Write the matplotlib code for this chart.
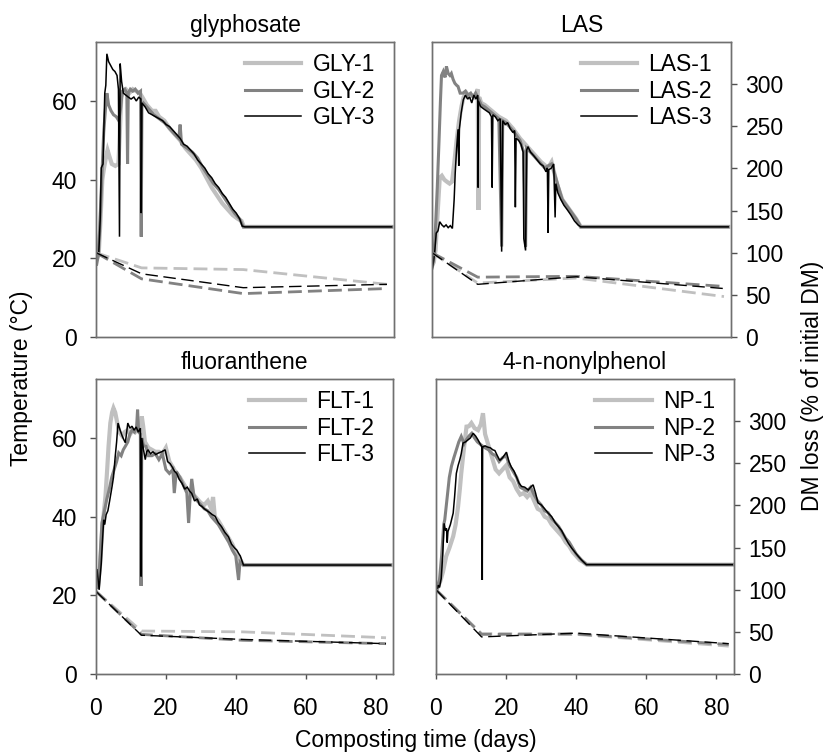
import matplotlib
matplotlib.use("Agg")
import matplotlib.pyplot as plt

plt.rcParams['font.family'] = ['Liberation Sans', 'DejaVu Sans']
plt.rcParams['font.size'] = 16.5

# temperature curves (day, °C)
gly1_d = [0.3, 0.8, 1.3, 1.8, 2.3, 2.8, 3.3, 3.8, 4.5, 5.5, 6.4, 6.8, 7.2, 7.8, 8.5, 9.5, 10.5, 11.5, 12.5, 13.2,
          14.5, 16, 17, 18, 19.5, 21, 22.5, 24, 25.5, 27, 28.5, 30, 31.5, 33, 34.5, 36, 37.5, 39, 40.5, 41.5, 42.2, 84.3]
gly1_t = [20, 21.5, 30, 40, 43, 45.5, 47.5, 46, 44, 43.5, 44, 52, 61, 62.5, 63, 62, 63, 62.5, 62, 61,
          59, 57.5, 57.5, 56, 55, 53, 51.5, 50, 48, 46.5, 45, 43, 40.5, 38, 36, 34, 32.5, 31, 30, 29.5, 28, 28]
gly2_d = [0.2, 0.7, 1.2, 1.7, 2.2, 2.7, 3.1, 3.6, 4.3, 5.0, 5.8, 6.5, 7.0, 7.5, 8.2, 8.8, 9.0, 9.2, 9.8, 10.5, 11.2,
          12.0, 12.7, 12.9, 13.1, 13.5, 15, 16.5, 18, 19.5, 21, 22.5, 23.6, 24.0, 24.4, 26, 27.5, 29, 30.5, 32, 33.5,
          35, 36.5, 38, 39.5, 41, 42, 84.3]
gly2_t = [18.5, 21, 30, 41.5, 52, 58, 62, 59, 57.5, 56.5, 56, 55, 58, 62.5, 63, 62, 44, 62, 63, 62.5, 63,
          62, 62.5, 25.5, 59, 59.5, 58, 56.5, 55.5, 54.5, 53, 51.5, 50.5, 54, 49, 48, 47, 45.5, 43, 41, 39,
          37.5, 35.5, 33.5, 31.5, 30, 28, 28]
gly3_d = [0.8, 1.2, 1.5, 2.0, 2.5, 2.8, 3.1, 3.6, 4.2, 4.8, 5.4, 6.0, 6.4, 6.7, 6.9, 7.3, 7.8, 8.5, 9.2, 10, 10.8,
          11.5, 12.2, 12.8, 12.9, 13.1, 14, 15, 16, 17, 18, 19, 20, 21, 22, 23, 24, 25, 26, 27, 28, 29, 30, 31,
          32, 33, 34, 35, 36, 37, 38, 39, 40, 41, 41.7, 42.5, 84.3]
gly3_t = [21.5, 30, 43, 44, 62, 64, 72, 70, 69, 68, 67.5, 66.5, 63, 25.5, 69.5, 65, 62, 61.5, 61, 60.5, 61,
          60, 61, 60.5, 31.5, 59.5, 58.5, 57, 56.5, 56, 55.5, 55, 54, 53.5, 52.5, 51.5, 50.5, 49, 48.5, 47.5,
          46.5, 45, 44, 43, 41.5, 40.5, 39, 38, 36.5, 35.5, 34, 32.5, 31.5, 30, 28.2, 28, 28]

las1_d = [0, 0.5, 1.0, 1.5, 2.2, 2.8, 3.5, 4.2, 5, 5.7, 6.3, 7, 7.7, 8.4, 9, 9.8, 10.5, 11.2, 12, 12.6, 13.0,
          13.2, 13.4, 14, 15, 17, 19, 21, 23, 25, 27, 29, 31, 33, 34, 35.5, 37, 39, 41, 42.3, 84.2]
las1_t = [18, 19, 22, 30, 40.5, 41, 40, 39.5, 39, 39.5, 44, 50, 55, 58.7, 61, 62, 61, 61.5, 61, 62, 63,
          32.3, 61, 59.5, 59, 57.5, 56, 55, 53, 50.5, 48.5, 46.5, 44.5, 43, 44.5, 39, 35, 32.5, 30, 28, 28]
las2_d = [0, 0.5, 1, 1.5, 2.0, 2.4, 2.7, 3.2, 3.7, 4.1, 4.6, 5.1, 5.5, 6, 6.5, 7, 7.4, 8, 8.8, 9.5, 10.2, 11,
          11.7, 12.4, 13, 14, 15, 17, 19, 19.8, 20.1, 21, 23, 25, 26.1, 26.6, 26.9, 28, 30, 32, 34, 35.5, 37,
          39, 41, 42.3, 84.2]
las2_t = [17.5, 20, 28, 38, 50, 60, 66.5, 67.5, 66, 68.8, 67, 66.5, 67, 65.5, 64.5, 64, 63.7, 62, 62, 62.5,
          61.5, 62, 61, 62, 61, 59, 58.5, 57, 55.5, 23, 55, 54.5, 52.5, 50, 47, 23, 48, 47, 45, 43, 44, 39.5,
          35, 32.5, 30, 28, 28]
las3_d = [0, 0.4, 0.8, 1.2, 1.7, 2.2, 2.8, 3.4, 4, 4.6, 5.2, 5.8, 6.3, 6.6, 7.0, 7.4, 7.6, 7.8, 8.3, 8.9, 9.5,
          10.1, 10.7, 11.3, 11.9, 12.5, 13.0, 13.1, 13.2, 13.8, 14.7, 15.5, 16.3, 16.9, 17.1, 17.3, 18, 18.7,
          19.4, 19.8, 20.1, 20.8, 21.5, 22.2, 23, 23.5, 23.7, 23.9, 24.6, 25.3, 25.9, 26.1, 26.6, 26.9, 27.3,
          28, 29, 29.9, 30.8, 31.6, 32.4, 32.8, 33.0, 33.2, 34, 34.6, 35.0, 35.2, 35.8, 36.6, 37.5, 38.5, 39.5,
          40.5, 41.5, 42.3, 84.2]
las3_t = [17, 19, 22, 26.4, 27, 29.3, 28.5, 28, 28.5, 27.8, 28.3, 27.6, 35, 41.7, 48, 52.8, 43.5, 53, 57,
          60.3, 61.5, 60.5, 61, 59.5, 61.5, 60.5, 61.5, 38, 60, 58.6, 58, 57.5, 57, 56, 38, 56.5, 56, 55,
          55.5, 21.7, 55, 54, 54.5, 53, 52, 52.5, 33, 50.5, 50, 49, 47, 25, 22, 47.5, 48.4, 47, 46, 45, 44,
          43.5, 42, 43, 26.5, 42.5, 43, 44, 30.4, 39, 36.6, 35, 33.5, 32.3, 31, 29.5, 28.5, 28, 28]

flt1_d = [0, 0.6, 1.2, 1.8, 2.7, 3.2, 3.6, 4.1, 4.6, 5.0, 5.5, 5.9, 6.4, 6.9, 7.5, 8.2, 9, 9.8, 10.5, 11.2, 12,
          12.6, 13.1, 13.5, 14, 15, 16, 17, 18, 19, 20, 21, 22, 23, 24, 25, 26, 27, 28, 29, 30, 31, 32, 33, 33.5,
          34, 35, 36, 37, 38, 39, 40, 41, 42.2, 84.3]
flt1_t = [22, 22.5, 28, 37, 45.1, 52, 58, 63.8, 66.5, 67.6, 66.5, 64.7, 62.5, 61.2, 60.5, 61.5, 62, 61, 62,
          61.5, 62.5, 62, 65.5, 63, 59, 57.5, 57, 56.5, 56.5, 56, 57.5, 54, 52.5, 51, 50, 48.5, 47, 46.5,
          45.5, 44.5, 43.5, 43, 44, 42, 45, 40, 39, 37.5, 36, 34.5, 33, 31, 29.5, 27.7, 27.7]
flt2_d = [0, 0.5, 1.0, 1.7, 2.3, 3.1, 3.8, 4.5, 5.2, 5.9, 6.5, 7.2, 7.8, 8.4, 9.1, 9.7, 10.3, 11, 11.6, 11.9,
          12.2, 12.7, 12.9, 13.1, 13.6, 14.3, 15, 16, 17, 18, 19, 20, 21, 22, 22.4, 23, 24, 25, 26, 26.5, 27,
          27.4, 28, 29, 30, 31, 32, 33, 34, 35, 36, 37, 38, 39, 40, 40.8, 41.2, 42.2, 84.3]
flt2_t = [22, 22, 27, 38.4, 41, 44.5, 47, 50, 52, 54, 56.2, 55.5, 57, 57.9, 59, 61, 62, 61.5, 62.5, 67.2,
          61.5, 61, 22.4, 60, 58, 57.9, 55.5, 55.5, 56, 54.5, 56, 52, 51, 52, 46, 51.5, 50, 48, 46, 38.4, 46,
          49.6, 45.5, 44, 43, 42, 41.5, 40, 39, 38, 36.5, 35, 33.5, 31.5, 30, 23.9, 28.5, 27.7, 27.7]
flt3_d = [0.3, 0.9, 1.5, 2.2, 2.5, 2.9, 3.4, 3.9, 4.6, 5.0, 5.5, 5.9, 6.3, 6.9, 7.5, 8.0, 8.4, 9.1, 9.7, 10.3,
          10.9, 11.5, 12.1, 12.7, 12.9, 13.1, 13.6, 14.1, 14.5, 14.9, 15.6, 16.3, 17.1, 17.9, 18.8, 19.8, 20.5,
          21.2, 21.7, 22.5, 23.1, 23.8, 24.6, 25.4, 26.1, 26.8, 27.4, 28.2, 29, 29.6, 30.3, 31, 31.8, 32.6,
          33.3, 34.1, 35, 35.9, 36.9, 37.9, 38.8, 39.7, 40.3, 40.8, 41.3, 42.2, 84.3]
flt3_t = [26.5, 21.4, 28, 39.2, 38, 40.5, 41.5, 44, 47.7, 50, 55.3, 59, 63.8, 62, 60.5, 59.5, 58.8, 63.8,
          62.5, 63, 62, 62.8, 61.5, 62.5, 24.8, 60, 57, 54.5, 56.5, 57, 56, 56.5, 55.8, 56.2, 56.5, 57, 54,
          53.5, 52.8, 51.5, 51, 49.5, 48.5, 47, 47.5, 46.5, 45.9, 44, 44.5, 43, 42.6, 42, 41.5, 41, 40.5,
          40.1, 38.5, 37.5, 36, 34.9, 33, 32, 31.5, 30.7, 30, 27.7, 27.7]

np1_d = [0, 0.5, 1.2, 2.0, 2.9, 3.8, 4.9, 5.6, 6.3, 6.8, 7.2, 7.8, 8.7, 9.4, 10.1, 11, 12, 12.8, 13.4, 14, 15,
         16, 17, 18, 19, 20, 21, 22, 23, 24, 25, 26, 27, 28, 29, 30, 31, 32, 33, 34, 35, 36, 37, 38, 39, 40,
         41, 42, 43, 84.5]
np1_t = [21, 22, 23.5, 26, 29.9, 32, 35, 38, 42.6, 47, 51, 56, 62.9, 63, 63.8, 62.5, 62, 63.5, 66.3, 61, 58,
         55, 52, 51, 52, 53, 50, 49, 47, 45.6, 46, 45, 46, 44, 42, 41.5, 40, 39.5, 38, 37, 36, 35, 33.5,
         32.5, 31, 30, 29, 28.5, 27.8, 27.8]
np2_d = [0, 0.5, 1.0, 1.6, 2.2, 2.5, 3.2, 3.8, 4.4, 5.1, 5.8, 6.5, 7.2, 8, 8.6, 9.4, 10.2, 11, 11.8, 12.5,
         13.2, 14, 15, 16, 17, 18, 19, 20, 21, 22, 23, 24, 25, 26, 27, 28, 29, 30, 31, 32, 33, 34, 35, 36,
         37, 38, 39, 40, 41, 42, 43, 84.5]
np2_t = [21, 22.5, 24, 30, 38, 39.2, 45, 50, 52.8, 55, 57, 59, 60.4, 58.5, 59.5, 60.5, 61.2, 60, 59, 58.5,
         58, 57.5, 57, 56, 55.5, 54, 55, 55.5, 53, 51.5, 50, 47.5, 47, 46.5, 47.5, 45.5, 44, 43, 41.5, 41,
         39.5, 38.5, 37.5, 36, 34.5, 33.5, 32, 30.5, 29.5, 28.5, 27.8, 27.8]
np3_d = [0.3, 0.6, 1.0, 1.5, 1.9, 2.3, 2.7, 3.0, 3.2, 3.4, 4.1, 4.9, 5.3, 5.8, 6.3, 6.8, 7.2, 7.7, 8.4, 9.1,
         9.8, 10.6, 11.3, 12, 12.6, 13.1, 13.2, 13.3, 14, 14.7, 15.5, 16.2, 16.8, 17.5, 18.2, 19, 20.1, 20.8,
         21.5, 22.3, 23, 23.7, 24.4, 25.3, 26.3, 27, 27.7, 28.4, 29.1, 30, 31, 32, 33, 34, 34.9, 35.8, 36.8,
         37.7, 38.7, 39.6, 40.6, 41.5, 42.9, 84.5]
np3_t = [21, 22.6, 22, 24.3, 30, 38.3, 36.5, 37, 33.4, 36.2, 38, 40.9, 45, 51, 53, 54.5, 56, 58.7, 59, 59.5,
         60, 61.2, 60.5, 59.5, 58.5, 57.7, 23.9, 57.7, 58, 57.7, 57.5, 57, 56.8, 55.5, 54.3, 55, 56.4, 54,
         52.6, 51.5, 50, 48.5, 47.7, 47.5, 46.8, 47.5, 48.1, 46, 43.5, 43, 42, 40.9, 40, 38.5, 37.5, 36.5,
         34.8, 33.3, 32, 31, 29.9, 29, 27.8, 27.8]

# dry matter (% of initial DM) at the sampling days
gly_dm_d = [0, 13, 42, 83]
gly_dm = [[100, 82, 80, 62.5], [100, 69, 51.5, 57.5], [100, 75, 58.5, 62.5]]
las_dm_d = [0, 13, 41, 83]
las_dm = [[100, 64, 70, 48], [100, 71, 72, 60], [100, 62.5, 71.5, 57.5]]
flt_dm_d = [0, 13, 42, 83]
flt_dm = [[98, 51, 50, 43], [98, 47, 40, 36], [98, 46, 41, 36]]
np_dm_d = [0, 13, 40, 83.5]
np_dm = [[100, 48, 47, 33], [100, 47, 47.5, 35], [100, 44, 48.5, 36]]

panels = [
    ("glyphosate", "GLY", [(gly1_d, gly1_t), (gly2_d, gly2_t), (gly3_d, gly3_t)], gly_dm_d, gly_dm),
    ("LAS", "LAS", [(las1_d, las1_t), (las2_d, las2_t), (las3_d, las3_t)], las_dm_d, las_dm),
    ("fluoranthene", "FLT", [(flt1_d, flt1_t), (flt2_d, flt2_t), (flt3_d, flt3_t)], flt_dm_d, flt_dm),
    ("4-n-nonylphenol", "NP", [(np1_d, np1_t), (np2_d, np2_t), (np3_d, np3_t)], np_dm_d, np_dm),
]

W, H = 832, 756
boxes = [(96, 42, 298, 295), (432, 42, 299, 295), (96, 379, 297, 295), (436, 379, 298, 295)]

colors = ['#c0c0c0', '#828282', '#000000']
widths = [3.0, 2.2, 1.1]
dm_widths = [2.0, 2.0, 1.0]
dm_dashes = [(5, 2.2), (5, 2.2), (9, 4)]

fig = plt.figure(figsize=(W / 100, H / 100), dpi=100)

for i, (title, code, temps, dm_d, dms) in enumerate(panels):
    x0, y0, w, h = boxes[i]
    ax = fig.add_axes([x0 / W, 1 - (y0 + h) / H, w / W, h / H])
    ax2 = ax.twinx()
    for j in range(3):
        d, t = temps[j]
        ax.plot(d, t, color=colors[j], lw=widths[j], label=f"{code}-{j + 1}", solid_joinstyle='miter')
        ax2.plot(dm_d, dms[j], color=colors[j], lw=dm_widths[j], dashes=dm_dashes[j])
    ax.set_xlim(0, 85)
    ax.set_ylim(0, 75)
    ax2.set_ylim(0, 350)
    ax.set_xticks([0, 20, 40, 60, 80])
    ax.set_yticks([0, 20, 40, 60])
    ax2.set_yticks([0, 50, 100, 150, 200, 250, 300])
    ax.set_title(title, fontsize=16.5, pad=7)
    left = i % 2 == 0
    bottom = i >= 2
    ax.tick_params(axis='y', left=left, labelleft=left, direction='out', length=4.5, width=1,
                   color='#505050', pad=9)
    ax2.tick_params(axis='y', right=not left, labelright=not left, direction='out', length=4.5, width=1,
                    color='#505050', pad=6)
    ax.tick_params(axis='x', bottom=bottom, labelbottom=bottom, direction='out', length=3.5, width=1,
                   color='#505050', pad=13)
    for a in (ax, ax2):
        for s in a.spines.values():
            s.set_color('#707070')
            s.set_linewidth(1)
    ax.legend(loc='upper right', bbox_to_anchor=(0.975, 1.0), frameon=False, fontsize=16.5,
              handlelength=2.45, handletextpad=0.5, labelspacing=0.15, borderaxespad=0.2, borderpad=0.3)

fig.text(22 / W, 0.5, "Temperature (°C)", rotation=90, ha='center', va='center', fontsize=16.5)
fig.text(812 / W, 1 - 386 / H, "DM loss (% of initial DM)", rotation=90, ha='center', va='center', fontsize=16.5)
fig.text(416 / W, 1 - 740 / H, "Composting time (days)", ha='center', va='center', fontsize=16.5)

fig.savefig("out.png", dpi=100)
